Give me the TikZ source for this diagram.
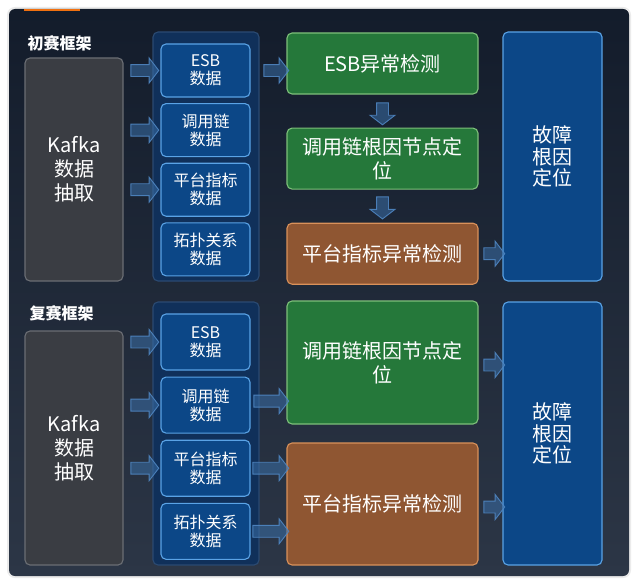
\documentclass[tikz,border=0pt]{standalone}
\usepackage{fontspec}
\setmainfont{Noto Sans CJK SC}
\usetikzlibrary{positioning,calc,shapes.arrows}
\definecolor{panelTop}{HTML}{131C2B}
\definecolor{panelBot}{HTML}{2C3646}
\definecolor{kafkaFill}{HTML}{3A3D43}
\definecolor{kafkaLine}{HTML}{6B6E74}
\definecolor{poolFill}{HTML}{10305A}
\definecolor{poolLine}{HTML}{2B4A72}
\definecolor{dataFill}{HTML}{0C4787}
\definecolor{dataLine}{HTML}{5AA3E6}
\definecolor{greenFill}{HTML}{25783A}
\definecolor{greenLine}{HTML}{7EC07A}
\definecolor{brownFill}{HTML}{8F5632}
\definecolor{brownLine}{HTML}{D9915A}
\definecolor{arrFill}{HTML}{3A6FA8}
\definecolor{arrLine}{HTML}{4F86C2}
\definecolor{tabOrange}{HTML}{F07010}
\newcommand{\flow}[2]{\path let \p1=(#1),\p2=(#2),\n1={veclen(\x2-\x1,\y2-\y1)},\n2={atan2(\y2-\y1,\x2-\x1)} in
  node[flowarr,minimum height=\n1,rotate=\n2] at ($(\p1)!0.5!(\p2)$) {};}

\begin{document}
\begin{tikzpicture}[x=1pt,y=-1pt,
    base/.style={rounded corners=5pt,inner sep=0pt,align=center,text=white,line width=1.1pt},
    kafka/.style={base,draw=kafkaLine,fill=kafkaFill,minimum width=98pt,font=\fontsize{20}{24}\selectfont},
    pool/.style={base,draw=poolLine,fill=poolFill,minimum width=106pt},
    data/.style={base,draw=dataLine,fill=dataFill,minimum width=89pt,font=\fontsize{16}{18}\selectfont},
    detect/.style={base,minimum width=191pt,font=\fontsize{20}{24}\selectfont},
    green/.style={detect,draw=greenLine,fill=greenFill},
    brown/.style={detect,draw=brownLine,fill=brownFill},
    fault/.style={base,draw=dataLine,fill=dataFill,minimum width=99pt,font=\fontsize{20}{21.5}\selectfont},
    title/.style={anchor=west,text=white,font=\fontsize{16}{18}\selectfont\bfseries},
    flowarr/.style={single arrow,draw=arrLine,fill=arrFill,fill opacity=0.55,draw opacity=0.9,
      inner xsep=0pt,inner ysep=5.5pt,single arrow head extend=6.5pt,single arrow tip angle=105,line width=0.9pt}]
  \useasboundingbox (0,0) rectangle (639,586);
  \fill[white] (0,0) rectangle (639,586);
  \draw[black!8,line width=2pt,rounded corners=7pt] (8,8) rectangle (630,577);
  \shade[top color=panelTop,bottom color=panelBot,rounded corners=6pt] (9,9) rectangle (629,576);
  \fill[tabOrange] (24,9) rectangle (80,11.5);

  % 初赛
  \node[title] (titleA) at (24,43) {初赛框架};
  \node[kafka,minimum height=223pt] (kafkaA) at (74,169.5) {Kafka\\数据\\抽取};
  \node[pool,minimum height=249pt] (poolA) at (206,156.5) {};
  \node[data,minimum height=53pt] (esbA) at (205.5,70.5) {ESB\\数据};
  \node[data,minimum height=53pt,below=5.5pt of esbA] (traceA) {调用链\\数据};
  \node[data,minimum height=53pt,below=5.5pt of traceA] (metricA) {平台指标\\数据};
  \node[data,minimum height=53pt,below=5.5pt of metricA] (topoA) {拓扑关系\\数据};
  \node[green,minimum height=61pt] (esbdetA) at (382.5,63.5) {ESB异常检测};
  \node[green,minimum height=61pt,below=33pt of esbdetA] (rootA) {调用链根因节点定\\位};
  \node[brown,minimum height=61pt,below=33pt of rootA] (metdetA) {平台指标异常检测};
  \node[fault,minimum height=249pt] (faultA) at (552.5,156.5) {故障\\根因\\定位};
  \flow{$(kafkaA.east|-esbA)+(5,0)$}{$(esbA.west)+(-4,0)$}
  \flow{$(kafkaA.east|-traceA)+(5,0)$}{$(traceA.west)+(-4,0)$}
  \flow{$(kafkaA.east|-metricA)+(5,0)$}{$(metricA.west)+(-4,0)$}
  \flow{$(poolA.east|-esbA)+(2,0)$}{esbdetA.west|-esbA}
  \flow{$(esbdetA.south)+(0,6)$}{$(rootA.north)+(0,-5)$}
  \flow{$(rootA.south)+(0,5)$}{$(metdetA.north)+(0,-6)$}
  \flow{$(metdetA.east)+(3,0)$}{faultA.west|-metdetA}

  % 复赛
  \node[title] (titleB) at (26,313) {复赛框架};
  \node[kafka,minimum height=234pt] (kafkaB) at (74,448) {Kafka\\数据\\抽取};
  \node[pool,minimum height=263pt] (poolB) at (206,433.5) {};
  \node[data,minimum height=56pt] (esbB) at (205.5,342) {ESB\\数据};
  \node[data,minimum height=56pt,below=6pt of esbB] (traceB) {调用链\\数据};
  \node[data,minimum height=56pt,below=6pt of traceB] (metricB) {平台指标\\数据};
  \node[data,minimum height=56pt,below=6pt of metricB] (topoB) {拓扑关系\\数据};
  \node[green,minimum height=123pt] (rootB) at (382.5,362.5) {调用链根因节点定\\位};
  \node[brown,minimum height=122pt] (metdetB) at (382.5,504) {平台指标异常检测};
  \node[fault,minimum height=263pt] (faultB) at (552.5,433.5) {故障\\根因\\定位};
  \flow{$(kafkaB.east|-esbB)+(5,0)$}{$(esbB.west)+(-4,0)$}
  \flow{$(kafkaB.east|-traceB)+(5,0)$}{$(traceB.west)+(-4,0)$}
  \flow{$(kafkaB.east|-metricB)+(5,0)$}{$(metricB.west)+(-4,0)$}
  \flow{$(traceB.east)+(1,-4)$}{$(rootB.west|-traceB)+(0,-4)$}
  \flow{metricB.east}{rootB.west|-metricB}
  \flow{topoB.east}{rootB.west|-topoB}
  \flow{$(rootB.east)+(3,2.5)$}{$(faultB.west|-rootB)+(0,2.5)$}
  \flow{$(metdetB.east)+(3,3)$}{$(faultB.west|-metdetB)+(0,3)$}
\end{tikzpicture}
\end{document}
